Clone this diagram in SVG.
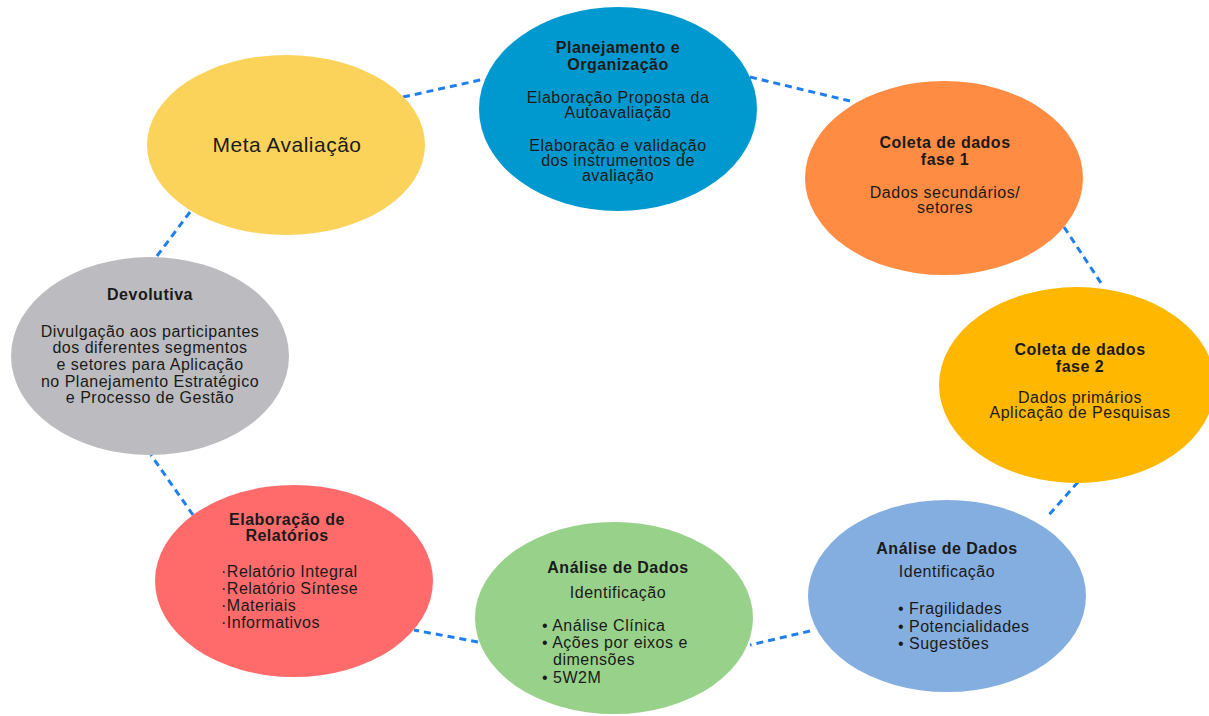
<svg xmlns="http://www.w3.org/2000/svg" width="1209" height="716" viewBox="0 0 1209 716">
<style>
text{font-family:"Liberation Sans",Arial,sans-serif;fill:#1a1a1a;text-anchor:middle;letter-spacing:0.5px}
.t{font-weight:bold;font-size:16px}
.b{font-size:16px}
.l{text-anchor:start}
.c{fill:none;stroke:#1f7ff0;stroke-width:3;stroke-dasharray:7 5}
</style>
<rect width="1209" height="716" fill="#ffffff"/>
<g id="connectors">
<line class="c" x1="403" y1="97" x2="485" y2="79"/>
<line class="c" x1="750" y1="77" x2="850" y2="101"/>
<line class="c" x1="1064" y1="227" x2="1101" y2="283"/>
<line class="c" x1="1078" y1="482" x2="1047" y2="517"/>
<line class="c" x1="810" y1="631" x2="750" y2="645"/>
<line class="c" x1="478" y1="642" x2="414" y2="630"/>
<line class="c" x1="193" y1="515" x2="151" y2="455"/>
<line class="c" x1="157" y1="256" x2="193" y2="208"/>
</g>
<g id="meta">
<ellipse cx="286" cy="145" rx="139" ry="90" fill="#fbd35b"/>
<text x="287" y="152" style="font-size:21px">Meta Avaliação</text>
</g>
<g id="planejamento">
<ellipse cx="618" cy="109" rx="139" ry="102" fill="#0099cf"/>
<text class="t" x="618" y="53">Planejamento e</text>
<text class="t" x="618" y="70">Organização</text>
<text class="b" x="618" y="103">Elaboração Proposta da</text>
<text class="b" x="618" y="118">Autoavaliação</text>
<text class="b" x="618" y="151">Elaboração e validação</text>
<text class="b" x="618" y="166">dos instrumentos de</text>
<text class="b" x="618" y="181">avaliação</text>
</g>
<g id="coleta1">
<ellipse cx="944" cy="178" rx="139" ry="97" fill="#ff8c42"/>
<text class="t" x="945" y="148">Coleta de dados</text>
<text class="t" x="945" y="165">fase 1</text>
<text class="b" x="945" y="198">Dados secundários/</text>
<text class="b" x="945" y="213">setores</text>
</g>
<g id="coleta2">
<ellipse cx="1077" cy="385" rx="138" ry="98" fill="#ffb700"/>
<text class="t" x="1080" y="355">Coleta de dados</text>
<text class="t" x="1080" y="372">fase 2</text>
<text class="b" x="1080" y="403">Dados primários</text>
<text class="b" x="1080" y="418">Aplicação de Pesquisas</text>
</g>
<g id="analise1">
<ellipse cx="947" cy="596" rx="139" ry="96" fill="#85aee0"/>
<text class="t" x="947" y="554">Análise de Dados</text>
<text class="b" x="947" y="577">Identificação</text>
<text class="b l" x="898" y="614">• Fragilidades</text>
<text class="b l" x="898" y="632">• Potencialidades</text>
<text class="b l" x="898" y="649">• Sugestões</text>
</g>
<g id="analise2">
<ellipse cx="614" cy="618" rx="139" ry="96" fill="#98d18a"/>
<text class="t" x="618" y="573">Análise de Dados</text>
<text class="b" x="618" y="598">Identificação</text>
<text class="b l" x="542" y="631">• Análise Clínica</text>
<text class="b l" x="542" y="648">• Ações por eixos e</text>
<text class="b l" x="553" y="665">dimensões</text>
<text class="b l" x="542" y="683">• 5W2M</text>
</g>
<g id="relatorios">
<ellipse cx="294" cy="581" rx="139" ry="96" fill="#ff6b6b"/>
<text class="t" x="287" y="525">Elaboração de</text>
<text class="t" x="287" y="541">Relatórios</text>
<text class="b l" x="221" y="577">·Relatório Integral</text>
<text class="b l" x="221" y="594">·Relatório Síntese</text>
<text class="b l" x="221" y="611">·Materiais</text>
<text class="b l" x="221" y="628">·Informativos</text>
</g>
<g id="devolutiva">
<ellipse cx="150" cy="356" rx="139" ry="99" fill="#bcbcc0"/>
<text class="t" x="150" y="300">Devolutiva</text>
<text class="b" x="150" y="337">Divulgação aos participantes</text>
<text class="b" x="150" y="353">dos diferentes segmentos</text>
<text class="b" x="150" y="370">e setores para Aplicação</text>
<text class="b" x="150" y="387">no Planejamento Estratégico</text>
<text class="b" x="150" y="403">e Processo de Gestão</text>
</g>
</svg>
